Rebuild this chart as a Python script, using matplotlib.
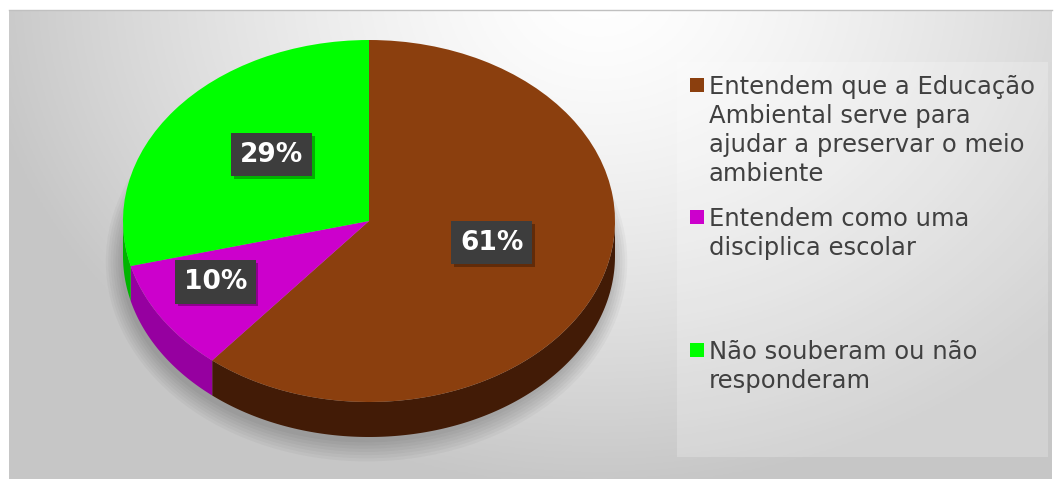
import numpy as np
import matplotlib.pyplot as plt
from matplotlib.patches import Rectangle, Ellipse
import matplotlib.patheffects as pe

# data
labels = [
    "Entendem que a Educação\nAmbiental serve para\najudar a preservar o meio\nambiente",
    "Entendem como uma\ndisciplica escolar",
    "Não souberam ou não\nresponderam",
]
values = [61, 10, 29]
top_colors = ["#8B3F0E", "#CC00CC", "#00FF00"]
side_colors = ["#421B06", "#9600A0", "#00B400"]

W, H = 1056, 479
fig = plt.figure(figsize=(W / 100, H / 100), dpi=100)
fig.patch.set_facecolor("white")

# background with soft radial gradient
bg = fig.add_axes([0, 0, 1, 1])
bg.set_xlim(0, W)
bg.set_ylim(H, 0)
bg.axis("off")
gx, gy = np.meshgrid(np.linspace(9, 1052, 400), np.linspace(10, H, 200))
dist = np.sqrt((gx - 600) ** 2 + ((gy + 10) * 1.25) ** 2)
shade = np.clip(1 - 0.22 * (dist / 620) ** 1.4, 0.78, 1)
bg.imshow(np.dstack([shade] * 3), extent=(9, 1052, H, 10), aspect="auto", zorder=0)
bg.plot([9, 1052], [10, 10], color="#c0c0c0", lw=1, zorder=1)

# legend panel
bg.add_patch(Rectangle((677, 62), 371, 395, facecolor="white", alpha=0.22,
                       edgecolor="none", zorder=2))
entry_tops = [77, 209, 342]
for lab, col, top in zip(labels, top_colors, entry_tops):
    bg.add_patch(Rectangle((690, top + 1), 14, 14, facecolor=col,
                           edgecolor="none", zorder=3))
    bg.text(709, top - 2, lab, va="top", ha="left", fontsize=17.5,
            family="DejaVu Sans", color="#404040", linespacing=1.27, zorder=3)

# pie axes: unit circle squeezed into an ellipse
depth = 35 * 2 / 362
ax = fig.add_axes([123 / W, (H - 437) / H, 492 / W, 397 / H])
ax.axis("off")

# soft shadow under the pie
for k in range(7):
    ax.add_patch(Ellipse((-0.01, -depth - 0.03), 2.0 + 0.02 * k, 2.0 + 0.035 * k,
                         facecolor="black", alpha=0.03, edgecolor="none",
                         zorder=0, clip_on=False))

wedges, _ = ax.pie(values, colors=top_colors, startangle=90, counterclock=False,
                   radius=1, wedgeprops=dict(linewidth=0, zorder=3))
ax.set_aspect("auto")
ax.set_xlim(-1, 1)
ax.set_ylim(-1 - depth, 1)

# side of the 3D disc
for w, sc in zip(wedges, side_colors):
    ts = np.radians(np.linspace(w.theta1, w.theta2, 300))
    ts = ts[np.sin(ts) <= 0]
    if len(ts) < 2:
        continue
    xs = np.concatenate([np.cos(ts), np.cos(ts[::-1])])
    ys = np.concatenate([np.sin(ts), np.sin(ts[::-1]) - depth])
    ax.fill(xs, ys, color=sc, lw=0, zorder=2)

# percentage labels
label_dist = [0.53, 0.74, 0.5]
total = sum(values)
for w, v, r in zip(wedges, values, label_dist):
    mid = np.radians((w.theta1 + w.theta2) / 2)
    t = ax.text(r * np.cos(mid), r * np.sin(mid) + 0.06, f"{round(100 * v / total)}%",
                ha="center", va="center", fontsize=19, fontweight="bold",
                family="DejaVu Sans", color="white", zorder=5,
                bbox=dict(boxstyle="square,pad=0.33", facecolor="#3d3d3d",
                          edgecolor="none"))
    t.get_bbox_patch().set_path_effects([
        pe.SimplePatchShadow(offset=(2, -2), shadow_rgbFace="black", alpha=0.3),
        pe.Normal()])

fig.savefig("out.png", dpi=100)
